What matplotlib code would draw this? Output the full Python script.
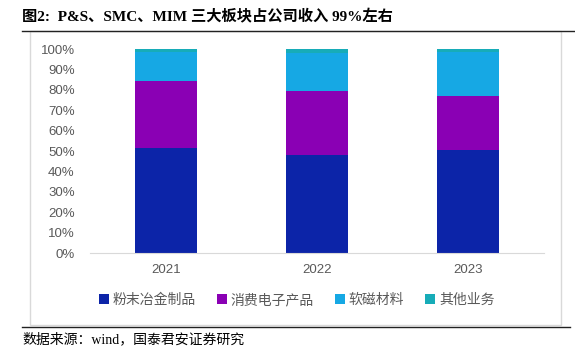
import numpy as np
import matplotlib.pyplot as plt
from matplotlib.patches import Rectangle
from matplotlib.lines import Line2D

years = ['2021', '2022', '2023']
series_names = ['粉末冶金制品', '消费电子产品', '软磁材料', '其他业务']
powder = [51.3, 48.0, 50.5]
consumer = [33.0, 31.4, 26.6]
magnetic = [14.1, 18.6, 21.6]
other = [1.6, 2.0, 1.3]
colors = ['#0c24a8', '#8a00b4', '#16a8e4', '#17acb8']

W, H = 575, 358
fig = plt.figure(figsize=(W / 100, H / 100), dpi=100)

cjk = ['Noto Sans CJK SC', 'DejaVu Sans']
latin_cjk = ['Liberation Serif', 'Noto Sans CJK SC']

# frame and rules
fig.patches.append(Rectangle((30 / W, 1 - 325 / H), (561 - 30) / W, (325 - 31) / H,
                             transform=fig.transFigure, fill=False,
                             edgecolor='#d9d9d9', linewidth=1))
fig.lines.append(Line2D([22 / W, 1.0], [1 - 31 / H] * 2, transform=fig.transFigure,
                        color='#222222', linewidth=1))
fig.lines.append(Line2D([22 / W, 570 / W], [1 - 327 / H] * 2, transform=fig.transFigure,
                        color='#222222', linewidth=1))

fig.text(22 / W, 1 - 17 / H, '图2:  P&S、SMC、MIM 三大板块占公司收入 99%左右',
         family=latin_cjk, fontweight='bold', fontsize=11, va='center', ha='left')
fig.text(22 / W, 1 - 339 / H, '数据来源：wind，国泰君安证券研究',
         family=latin_cjk, fontsize=10, va='center', ha='left')

ax = fig.add_axes([90 / W, 1 - 253 / H, (544 - 90) / W, 204 / H])
x = np.arange(len(years))
bottom = np.zeros(len(years))
for vals, name, c in zip([powder, consumer, magnetic, other], series_names, colors):
    v = np.array(vals) / 100
    ax.bar(x, v, width=0.41, bottom=bottom, color=c, label=name)
    bottom += v

ax.set_xlim(-0.5, 2.5)
ax.set_ylim(0, 1)
ax.set_yticks(np.arange(0, 1.01, 0.1))
ax.set_yticklabels([f'{int(round(t * 100))}%' for t in np.arange(0, 1.01, 0.1)])
ax.set_xticks(x)
ax.set_xticklabels(years)
for s in ['top', 'right', 'left']:
    ax.spines[s].set_visible(False)
ax.spines['bottom'].set_color('#d9d9d9')
ax.tick_params(axis='both', length=0, colors='#595959', labelsize=9.5)
ax.tick_params(axis='y', pad=11)
ax.tick_params(axis='x', pad=8)
for lab in ax.get_xticklabels() + ax.get_yticklabels():
    lab.set_family(['Liberation Sans', 'DejaVu Sans'])

leg = fig.legend(loc='center', bbox_to_anchor=(0.516, 1 - 300 / H), ncol=4, frameon=False,
                 prop={'family': cjk, 'size': 10}, handlelength=0.7, handleheight=0.7,
                 handletextpad=0.3, columnspacing=1.5)
for t in leg.get_texts():
    t.set_color('#595959')

fig.savefig('out.png', dpi=100)
